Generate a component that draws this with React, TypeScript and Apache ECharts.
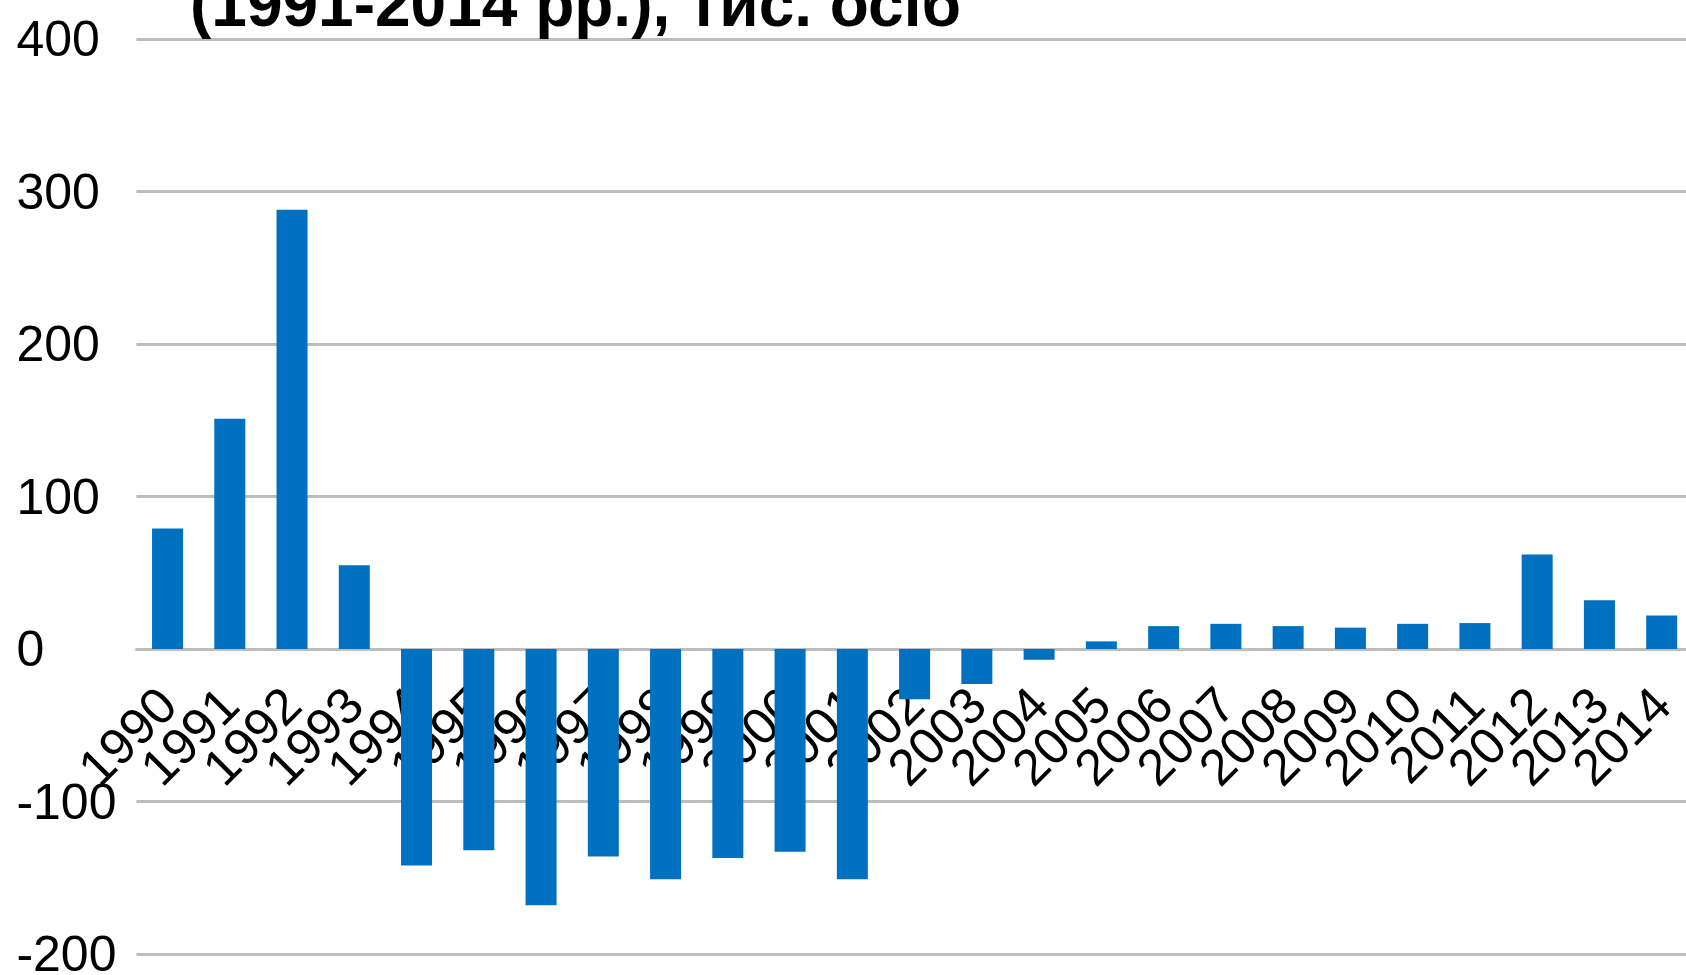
import React, { useEffect, useRef } from "react";
import * as echarts from "echarts";

const years: string[] = [
  "1990", "1991", "1992", "1993", "1994", "1995", "1996", "1997", "1998",
  "1999", "2000", "2001", "2002", "2003", "2004", "2005", "2006", "2007",
  "2008", "2009", "2010", "2011", "2012", "2013", "2014",
];

const migrationBalance: number[] = [
  79, 151, 288, 55, -142, -132, -168, -136, -151, -137, -133, -151, -33, -23,
  -7, 5, 15, 16.5, 15, 14, 16.5, 17, 62, 32, 22,
];

const yMin = -200;
const yMax = 400;
const yStep = 100;

const titleText = "(1991-2014 рр.), тис. осіб";

const FONT = "'Liberation Sans', Arial, sans-serif";

export default function App() {
  const ref = useRef<HTMLDivElement>(null);

  useEffect(() => {
    document.body.style.margin = "0";
    if (!ref.current) return;
    const chart = echarts.init(ref.current, undefined, { renderer: "svg" });
    const H = 975;
    const gridTop = 39;
    const gridBottom = 21;
    const gridH = H - gridTop - gridBottom;
    const zeroOffset = (gridH * (0 - yMin)) / (yMax - yMin);
    chart.setOption({
      animation: false,
      backgroundColor: "#ffffff",
      grid: {
        left: 136.4,
        right: -6.8,
        top: gridTop,
        bottom: gridBottom,
        containLabel: false,
        outerBoundsMode: "none",
      },
      graphic: [
        {
          type: "text",
          left: 190,
          top: -28,
          z: 10,
          style: {
            text: titleText,
            fontSize: 64,
            fontWeight: "bold",
            fontFamily: FONT,
            fill: "#000000",
          },
        },
      ],
      xAxis: {
        type: "category",
        data: years,
        boundaryGap: true,
        position: "bottom",
        offset: -zeroOffset,
        axisLine: { onZero: false, lineStyle: { color: "#bdbdbd", width: 3 } },
        axisTick: { show: false },
        axisLabel: {
          interval: 0,
          rotate: 45,
          margin: 47,
          fontSize: 51,
          color: "#000000",
          fontFamily: FONT,
        },
        splitLine: { show: false },
      },
      yAxis: {
        type: "value",
        min: yMin,
        max: yMax,
        interval: yStep,
        axisLine: { show: false },
        axisTick: { show: false },
        axisLabel: {
          align: "left",
          margin: 120,
          fontSize: 50,
          color: "#000000",
          fontFamily: FONT,
        },
        splitLine: { lineStyle: { color: "#bdbdbd", width: 3 } },
      },
      series: [
        {
          type: "bar",
          data: migrationBalance,
          barWidth: 31,
          itemStyle: { color: "#0070c0" },
        },
      ],
    });
    return () => chart.dispose();
  }, []);

  return (
    <div
      ref={ref}
      style={{ position: "absolute", left: 0, top: 0, width: 1686, height: 975 }}
    />
  );
}
